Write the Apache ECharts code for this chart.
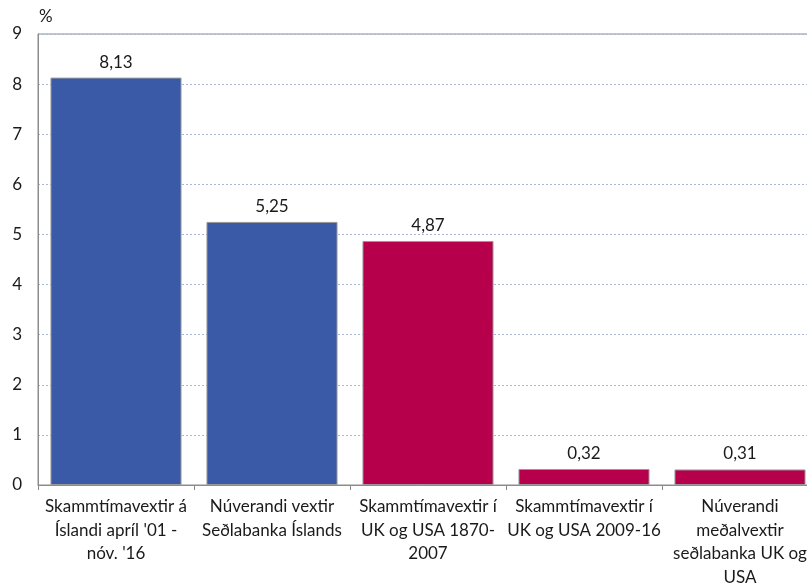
<!DOCTYPE html>
<html><head><meta charset="utf-8">
<script src="https://cdn.jsdelivr.net/npm/echarts@6/dist/echarts.min.js"></script>
<style>html,body{margin:0;padding:0;background:#fff}#c{width:807px;height:583px}</style>
</head><body><div id="c"></div>
<script>
const categories = [
  "Skammtímavextir á\nÍslandi apríl '01 -\nnóv. '16",
  "Núverandi vextir\nSeðlabanka Íslands",
  "Skammtímavextir í\nUK og USA 1870-\n2007",
  "Skammtímavextir í\nUK og USA 2009-16",
  "Núverandi\nmeðalvextir\nseðlabanka UK og\nUSA"
];
const values = [8.13, 5.25, 4.87, 0.32, 0.31];
const barColors = ["#3A59A6", "#3A59A6", "#B6004B", "#B6004B", "#B6004B"];
const yTicks = [0, 1, 2, 3, 4, 5, 6, 7, 8, 9];

const font = "Lato, 'Open Sans', sans-serif";
const chart = echarts.init(document.getElementById('c'), null, {renderer: 'canvas'});
chart.setOption({
  animation: false,
  textStyle: {fontFamily: font},
  grid: {left: 38, width: 780, top: 34, bottom: 98, show: true, borderColor: '#8c8c8c', borderWidth: 1,
         containLabel: false, outerBoundsMode: 'none'},
  xAxis: {
    type: 'category',
    data: categories,
    axisLine: {lineStyle: {color: '#8c8c8c', width: 1}},
    axisTick: {show: true, length: 5, lineStyle: {color: '#8c8c8c'}},
    axisLabel: {interval: 0, color: '#1a1a1a', fontSize: 17, lineHeight: 23.5, margin: 10, fontFamily: font}
  },
  yAxis: {
    type: 'value',
    min: yTicks[0], max: yTicks[yTicks.length - 1], interval: 1,
    name: '%',
    nameLocation: 'end',
    nameGap: 9,
    nameTextStyle: {color: '#1a1a1a', fontSize: 17, align: 'left', padding: [0, 0, 0, 1], fontFamily: font},
    axisLine: {show: true, lineStyle: {color: '#8c8c8c'}},
    axisTick: {show: false},
    axisLabel: {color: '#1a1a1a', fontSize: 17, margin: 16, fontFamily: font},
    splitLine: {show: true, lineStyle: {color: '#a9b8d6', type: [2, 2], width: 1}}
  },
  series: [{
    type: 'bar',
    data: values.map((v, i) => ({value: v, itemStyle: {color: barColors[i]}})),
    barCategoryGap: '16%',
    itemStyle: {borderColor: '#9a9a9a', borderWidth: 1},
    label: {
      show: true, position: 'top', distance: 7, color: '#1a1a1a', fontSize: 17, fontFamily: font,
      formatter: p => p.value.toFixed(2).replace('.', ',')
    }
  }]
});
</script></body></html>
